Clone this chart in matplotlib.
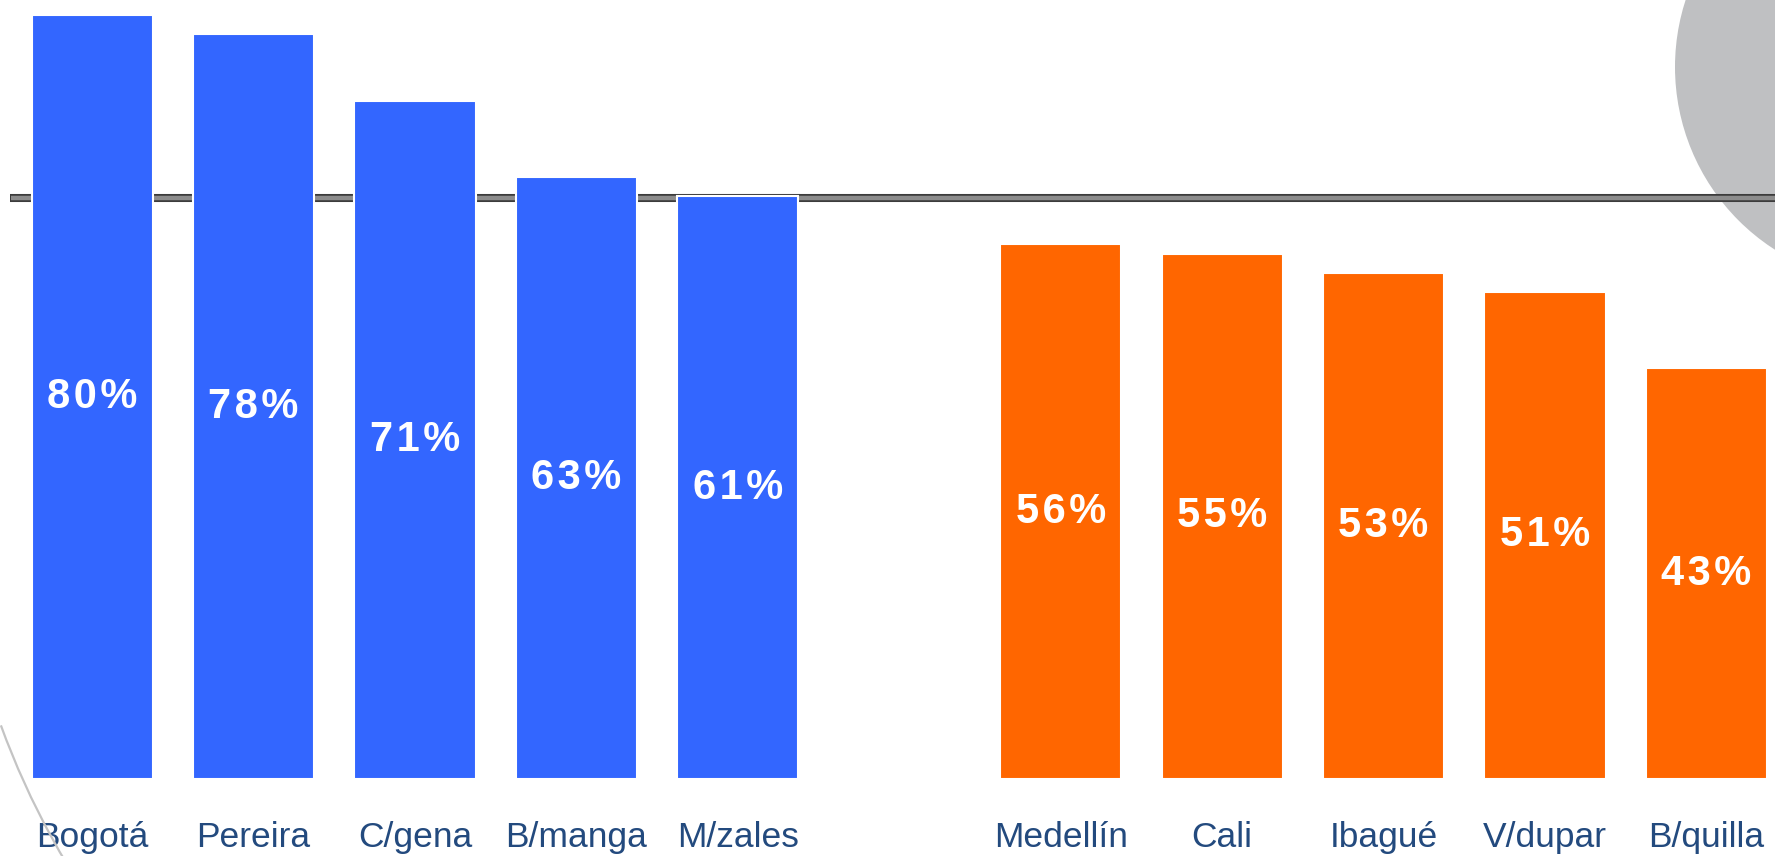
import numpy as np
import matplotlib.pyplot as plt
from matplotlib.patches import Circle, Arc

#%% DATOS
ciudades_a = ['Bogotá', 'Pereira', 'C/gena', 'B/manga', 'M/zales']
valores_a = [80, 78, 71, 63, 61]
ciudades_b = ['Medellín', 'Cali', 'Ibagué', 'V/dupar', 'B/quilla']
valores_b = [56, 55, 53, 51, 43]

referencia = 60.8  # linea horizontal

azul = '#3366FF'
naranja = '#FF6600'
texto_cat = '#234A7E'

plt.rcParams['font.family'] = ['Liberation Sans', 'DejaVu Sans']

#%% FIGURA
W, H = 1775, 856
fig = plt.figure(figsize=(W / 100, H / 100), dpi=100)

# fondo: circulo gris arriba a la derecha
ax_bg = fig.add_axes([0, 0, 1, 1], zorder=0)
ax_bg.set_xlim(0, W)
ax_bg.set_ylim(H, 0)
ax_bg.axis('off')
ax_bg.add_patch(Circle((1892, 67), 217, color='#BFC0C2', lw=0))

# ejes principales
pos_a = np.arange(len(ciudades_a))
pos_b = np.arange(len(ciudades_b)) + len(ciudades_a) + 1

ax = fig.add_axes([0, 77 / H, 1, 779 / H], zorder=1)
ax.patch.set_alpha(0)
ax.set_xlim(-0.571, 10.425)
ax.set_ylim(0, 779 / 9.55)
ax.axis('off')

# linea de referencia
ax.axhline(referencia, xmin=10 / W, xmax=1, color='#3C3C3C', lw=5.8,
           solid_capstyle='butt', zorder=1)
ax.axhline(referencia, xmin=11 / W, xmax=1, color='#8C8C8C', lw=3.2,
           solid_capstyle='butt', zorder=1)

ax.bar(pos_a, valores_a, width=0.75, color=azul, edgecolor='white', lw=1.5, zorder=2)
ax.bar(pos_b, valores_b, width=0.75, color=naranja, edgecolor='white', lw=1.5, zorder=2)

for x, v in zip(list(pos_a) + list(pos_b), valores_a + valores_b):
    etiqueta = '\u200a'.join(f'{v}%')
    ax.text(x, v / 2, etiqueta, color='white', fontsize=30, fontweight='bold',
            ha='center', va='center', zorder=3)

for x, c in zip(list(pos_a) + list(pos_b), ciudades_a + ciudades_b):
    ax.text(x, -7.1, c, color=texto_cat, fontsize=25.5, ha='center', va='baseline',
            clip_on=False, zorder=3)

# arco decorativo abajo a la izquierda
ax_top = fig.add_axes([0, 0, 1, 1], zorder=2)
ax_top.patch.set_alpha(0)
ax_top.set_xlim(0, W)
ax_top.set_ylim(H, 0)
ax_top.axis('off')
ax_top.add_patch(Arc((763, 448), 2 * 811, 2 * 811, theta1=90, theta2=160,
                     color='#C4C4C4', lw=1.6))

fig.savefig('out.png', dpi=100)
